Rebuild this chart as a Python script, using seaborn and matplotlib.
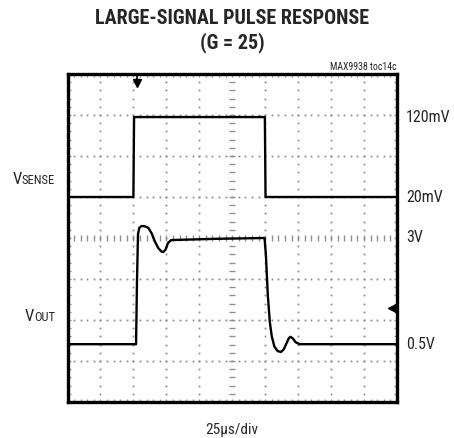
import numpy as np
import pandas as pd
import matplotlib
matplotlib.use("Agg")
import matplotlib.pyplot as plt
import seaborn as sns

# ---- data (scope divisions: x 0..10 at 25us/div, y 0..8) ----
sense_t = [0.0, 2.0, 2.02, 5.99, 6.01, 10.0]
sense_v = [5.0, 5.0, 6.95, 6.95, 5.0, 5.0]

out_t = [0.0, 2.08, 2.11, 2.14, 2.18, 2.24, 2.33, 2.45, 2.55, 2.65, 2.75, 2.85,
         2.91, 2.98, 3.05, 3.15, 3.6, 4.5, 5.98, 6.02, 6.08, 6.14, 6.2, 6.28,
         6.38, 6.48, 6.56, 6.64, 6.72, 6.77, 6.84, 6.92, 7.04, 10.0]
out_v = [1.41, 1.41, 3.0, 4.1, 4.25, 4.29, 4.29, 4.25, 4.12, 3.92, 3.76, 3.67,
         3.66, 3.72, 3.88, 3.95, 3.96, 3.98, 4.0, 3.6, 2.6, 1.95, 1.6, 1.35,
         1.24, 1.22, 1.28, 1.42, 1.56, 1.59, 1.55, 1.46, 1.41, 1.41]

level_labels = ["120mV", "20mV", "3V", "0.5V"]
level_values = [6.95, 5.0, 4.0, 1.41]

trigger_pos = 2.1
ref_marker = 2.29

sns.set_style("white")
plt.rcParams["font.family"] = ["Roboto Condensed", "DejaVu Sans"]

fig = plt.figure(figsize=(4.54, 4.38), dpi=100)
ax = fig.add_axes([67.5 / 454, 1 - 402 / 438, 329.5 / 454, 328 / 438])
ax.set_xlim(0, 10)
ax.set_ylim(0, 8)

# grid dots
gc = "#8f8f8f"
minor_x = np.arange(0, 10.01, 0.2)
minor_y = np.arange(0, 8.01, 0.2)
for gx in range(1, 10):
    if gx == 5:
        continue
    ax.plot(np.full_like(minor_y, gx), minor_y, ls="none", marker="s", ms=1.3,
            mew=0, color=gc, zorder=1)
for gy in range(1, 8):
    if gy == 4:
        continue
    ax.plot(minor_x, np.full_like(minor_x, gy), ls="none", marker="s", ms=1.3,
            mew=0, color=gc, zorder=1)
# center cross with ticks
ax.plot(minor_x, np.full_like(minor_x, 4), ls="none", marker="|", ms=4,
        mew=1.0, color=gc, zorder=1)
ax.plot(np.full_like(minor_y, 5), minor_y, ls="none", marker="_", ms=4,
        mew=1.0, color=gc, zorder=1)

# traces
df_s = pd.DataFrame({"t": sense_t, "v": sense_v})
df_o = pd.DataFrame({"t": out_t, "v": out_v})
sns.lineplot(data=df_s, x="t", y="v", sort=False, estimator=None, color="black",
             lw=1.7, ax=ax, zorder=3)
sns.lineplot(data=df_o, x="t", y="v", sort=False, estimator=None, color="black",
             lw=1.7, ax=ax, zorder=3)

# markers
ax.plot([trigger_pos, trigger_pos], [8, 7.8], color="black", lw=1.2, zorder=4)
ax.plot([trigger_pos], [7.78], marker="v", ms=6, color="black", zorder=4)
ax.plot([9.88], [ref_marker], marker="<", ms=6.5, color="black", zorder=4)

# frame & ticks
ax.set_xticks([])
ax.set_yticks([])
ax.set_xticks(minor_x, minor=True)
ax.set_yticks(minor_y, minor=True)
ax.tick_params(which="minor", direction="in", length=2.5, width=0.9, color=gc,
               top=True, right=True, bottom=True, left=True,
               labelbottom=False, labelleft=False)
for s in ax.spines.values():
    s.set_linewidth(2.4)
    s.set_color("black")
ax.set_xlabel("")
ax.set_ylabel("")

# level labels
trans = matplotlib.transforms.blended_transform_factory(ax.transAxes, ax.transData)
for lab, val in zip(level_labels, level_values):
    ax.text(1 + 9 / 329.5, val, lab, transform=trans, ha="left", va="center",
            fontsize=11.5)

# channel labels
def chan(main, sub, xr, yc):
    t_sub = fig.text(xr / 454, 1 - yc / 438, sub, ha="right", va="bottom",
                     fontsize=9)
    ax.annotate(main, xy=(0, 0), xycoords=t_sub, ha="right", va="bottom",
                fontsize=12)

chan("V", "SENSE", 55, 187)
chan("V", "OUT", 55, 324)

fig.text(232 / 454, 1 - 430 / 438, "25\u00b5s/div", ha="center", va="center",
         fontsize=11)
fig.text(232 / 454, 1 - 19 / 438, "LARGE-SIGNAL PULSE RESPONSE", ha="center",
         va="center", fontsize=14.5, fontweight="heavy")
fig.text(232 / 454, 1 - 43 / 438, "(G = 25)", ha="center", va="center",
         fontsize=14.5, fontweight="heavy")
fig.text(396 / 454, 1 - 67 / 438, "MAX9938 toc14c", ha="right", va="center",
         fontsize=7)

fig.savefig("out.png", dpi=100)
